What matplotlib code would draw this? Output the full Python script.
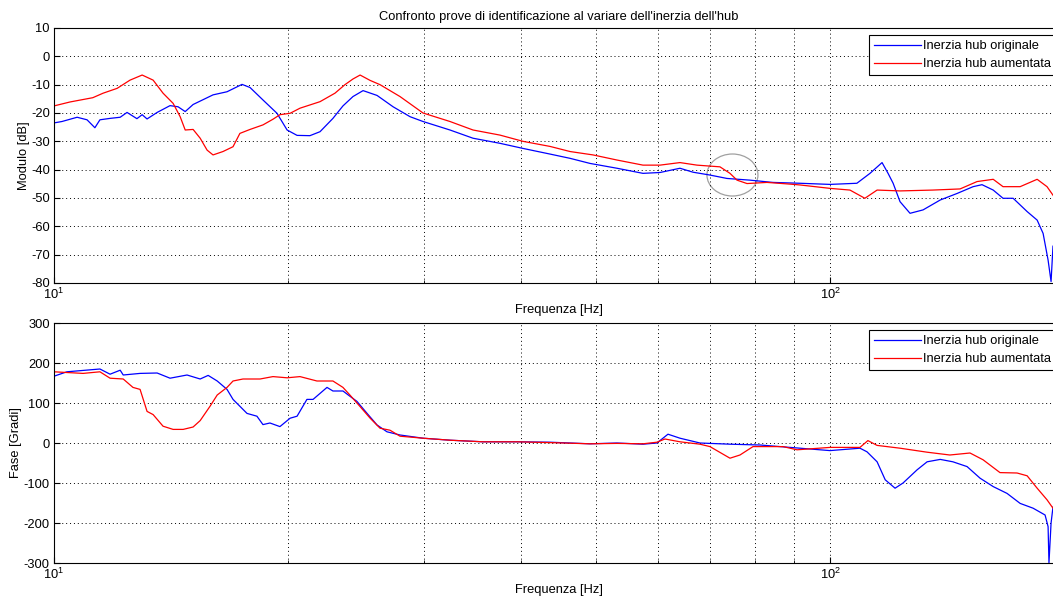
import matplotlib
matplotlib.use("Agg")
import matplotlib.pyplot as plt
from matplotlib.patches import Ellipse
from matplotlib.ticker import LogLocator, FixedLocator, NullFormatter

plt.rcParams['font.family'] = ['Liberation Sans', 'DejaVu Sans']
plt.rcParams['font.size'] = 9.3
plt.rcParams['axes.unicode_minus'] = False

title = "Confronto prove di identificazione al variare dell'inerzia dell'hub"
xlabel = "Frequenza [Hz]"
ylabel_top = "Modulo [dB]"
ylabel_bot = "Fase [Gradi]"
legend_labels = ["Inerzia hub originale", "Inerzia hub aumentata"]

# --- Modulo, inerzia originale
f_mag_orig = [10.00, 10.24, 10.71, 11.03, 11.29, 11.46, 11.81, 12.17, 12.42, 12.79, 12.99, 13.18,
              13.58, 14.11, 14.45, 14.76, 15.11, 16.03, 16.71, 17.47, 17.89, 18.59, 19.38, 19.97,
              20.57, 21.37, 22.02, 22.88, 23.57, 24.28, 25.02, 26.08, 27.35, 28.76, 29.89, 32.38,
              34.67, 37.56, 40.21, 43.58, 46.24, 49.07, 53.15, 57.41, 60.38, 64.07, 66.61, 70.03,
              73.66, 78.87, 84.43, 91.50, 100.0, 108.3, 112.6, 116.7, 118.8, 120.6, 123.1, 126.8,
              131.8, 138.7, 145.8, 152.9, 157.0, 162.3, 167.1, 172.2, 179.5, 184.9, 188.2, 191.0,
              192.7, 193.8]
mag_orig = [-23.5, -23.0, -21.5, -22.4, -25.2, -22.4, -21.9, -21.5, -19.8, -22.0, -20.6, -22.1,
            -19.8, -17.4, -17.8, -19.5, -17.0, -13.6, -12.5, -9.9, -11.0, -15.4, -20.1, -26.0,
            -27.9, -28.0, -26.6, -21.9, -17.5, -14.2, -12.1, -13.8, -17.8, -21.3, -23.0, -26.0,
            -28.9, -30.7, -32.5, -34.5, -36.0, -37.8, -39.5, -41.3, -41.0, -39.5, -40.9, -41.9,
            -43.1, -43.7, -44.5, -44.8, -45.2, -44.8, -41.3, -37.5, -41.3, -44.8, -51.3, -55.4,
            -54.2, -50.7, -48.4, -46.0, -45.3, -47.2, -50.1, -50.1, -54.8, -57.8, -62.5, -71.9,
            -79.5, -67.0]

# --- Modulo, inerzia aumentata
f_mag_aum = [10.00, 10.49, 11.22, 11.57, 12.06, 12.53, 12.99, 13.42, 13.82, 14.24, 14.54, 14.76,
             15.11, 15.43, 15.75, 16.03, 16.51, 17.01, 17.36, 17.89, 18.59, 19.15, 19.55, 20.15,
             20.75, 22.02, 23.02, 23.71, 24.28, 24.80, 25.55, 26.31, 27.92, 29.89, 32.38, 34.67,
             37.56, 40.21, 43.58, 46.24, 49.51, 53.15, 57.41, 60.38, 64.07, 67.39, 72.14, 74.32,
             75.89, 78.17, 82.94, 88.82, 91.50, 100.0, 106.1, 110.9, 115.0, 123.1, 135.7, 147.1,
             154.7, 162.3, 167.1, 175.8, 184.9, 190.4, 193.8]
mag_aum = [-17.5, -16.1, -14.6, -13.0, -11.3, -8.4, -6.6, -8.4, -13.0, -16.6, -21.3, -26.0,
           -25.8, -28.9, -33.1, -34.8, -33.6, -31.9, -27.2, -25.8, -24.2, -22.2, -20.6, -20.1,
           -18.3, -16.0, -13.0, -10.0, -8.0, -6.6, -8.5, -10.0, -14.2, -20.0, -23.0, -26.0,
           -27.8, -30.0, -31.8, -33.6, -34.8, -36.6, -38.4, -38.4, -37.5, -38.4, -39.0, -41.3,
           -43.7, -44.9, -44.5, -45.1, -45.4, -46.6, -47.2, -50.1, -47.2, -47.5, -47.2, -46.8,
           -44.2, -43.4, -46.0, -46.0, -43.4, -46.0, -49.0]

# --- Fase, inerzia originale
f_ph_orig = [10.00, 10.39, 11.46, 11.81, 12.17, 12.28, 12.91, 13.58, 14.11, 14.84, 15.43, 15.80,
             16.23, 16.71, 17.01, 17.73, 18.26, 18.59, 18.98, 19.55, 20.15, 20.57, 21.18, 21.57,
             22.48, 22.88, 23.57, 24.06, 24.57, 25.32, 26.08, 26.86, 27.92, 29.89, 32.38, 35.71,
             39.50, 43.58, 49.07, 53.15, 57.41, 59.84, 61.83, 64.07, 67.99, 74.32, 81.25, 91.50,
             100.0, 109.3, 111.6, 115.0, 117.8, 121.3, 124.2, 129.5, 133.4, 138.7, 144.0, 150.2,
             156.1, 162.3, 169.1, 175.8, 182.7, 189.3, 191.0, 191.5, 192.7, 193.8]
ph_orig = [167, 178, 185, 172, 182, 170, 174, 175, 162, 170, 160, 169,
           155, 134, 109, 74, 67, 46, 50, 41, 62, 67, 109, 109,
           139, 130, 130, 117, 104, 74, 45, 28, 20, 12, 7, 3,
           3, 2, -2, 0, -3, 0, 22, 12, 0, -3, -5, -13,
           -19, -13, -22, -47, -92, -113, -100, -67, -47, -41, -47, -59,
           -88, -109, -126, -151, -163, -180, -209, -300, -200, -160]

# --- Fase, inerzia aumentata
f_ph_aum = [10.00, 10.90, 11.46, 11.81, 12.28, 12.64, 12.91, 13.18, 13.42, 13.82, 14.24, 14.67,
            15.11, 15.43, 15.89, 16.23, 16.71, 17.01, 17.52, 18.43, 19.15, 19.97, 20.75, 21.82,
            22.88, 23.57, 24.06, 24.80, 25.55, 26.31, 27.10, 27.92, 29.89, 32.38, 35.71, 39.50,
            43.58, 49.07, 53.15, 57.41, 59.84, 61.28, 64.07, 67.99, 70.03, 74.32, 76.56, 79.57,
            87.00, 90.69, 100.0, 109.3, 111.9, 115.0, 123.1, 133.4, 142.7, 151.5, 157.5, 165.6,
            174.2, 179.5, 184.9, 190.4, 193.8]
ph_aum = [178, 174, 178, 162, 160, 139, 134, 79, 71, 42, 34, 34,
          40, 56, 92, 120, 139, 155, 160, 160, 166, 163, 166, 155,
          155, 139, 120, 91, 62, 37, 32, 17, 12, 7, 3, 3,
          1, -2, -1, -2, 2, 10, 3, -3, -9, -38, -30, -9,
          -9, -17, -11, -11, 6, -6, -13, -23, -30, -25, -42, -74,
          -75, -82, -113, -142, -163]

x_limits = (10, 200)
mag_ticks = [-80, -70, -60, -50, -40, -30, -20, -10, 0, 10]
ph_ticks = [-300, -200, -100, 0, 100, 200, 300]

W, H = 1053, 603
fig = plt.figure(figsize=(W / 100, H / 100), dpi=100)
ax_w = 1009.6 / W
ax1 = fig.add_axes([54 / W, (H - 283) / H, ax_w, 255 / H])
ax2 = fig.add_axes([54 / W, (H - 563) / H, ax_w, 240 / H])

FS = 9.3


def style(ax, yticks):
    ax.set_xscale('log')
    ax.set_xlim(*x_limits)
    ax.set_ylim(yticks[0], yticks[-1])
    ax.set_yticks(yticks)
    ax.xaxis.set_major_locator(FixedLocator([10, 100]))
    ax.xaxis.set_minor_locator(LogLocator(base=10, subs=range(2, 10), numticks=20))
    ax.xaxis.set_minor_formatter(NullFormatter())
    ax.grid(True, which='major', color='black', linestyle=(0, (1, 3)), linewidth=0.7)
    ax.grid(True, which='minor', axis='x', color='black', linestyle=(0, (1, 3)), linewidth=0.7)
    ax.tick_params(which='both', direction='in', color='black', labelsize=FS)
    ax.tick_params(which='major', length=4, pad=3)
    ax.tick_params(which='minor', length=2)
    for s in ax.spines.values():
        s.set_linewidth(0.8)
    ax.set_xlabel(xlabel, labelpad=1, fontsize=FS)


def add_legend(ax, handles):
    leg = ax.legend(handles, legend_labels, loc='upper right', fancybox=False, framealpha=1,
                    edgecolor='black', handlelength=3.6, handletextpad=0.2, borderaxespad=0.55,
                    labelspacing=0.45, fontsize=FS, borderpad=0.4)
    leg.get_frame().set_linewidth(0.8)


l1, = ax1.plot(f_mag_orig, mag_orig, color='#0000ff', linewidth=0.9)
l2, = ax1.plot(f_mag_aum, mag_aum, color='#ff0000', linewidth=0.9)
style(ax1, mag_ticks)
ax1.set_ylabel(ylabel_top, labelpad=1, fontsize=FS)
ax1.set_title(title, fontsize=FS, pad=6)
add_legend(ax1, [l1, l2])
ax1.add_patch(Ellipse((0.672, 0.4235), 0.0505, 0.1647, transform=ax1.transAxes,
                      fill=False, edgecolor='#a0a0a0', linewidth=0.9))

m1, = ax2.plot(f_ph_orig, ph_orig, color='#0000ff', linewidth=0.9)
m2, = ax2.plot(f_ph_aum, ph_aum, color='#ff0000', linewidth=0.9)
style(ax2, ph_ticks)
ax2.set_ylabel(ylabel_bot, labelpad=1, fontsize=FS)
add_legend(ax2, [m1, m2])

fig.savefig('out.png', dpi=100)
